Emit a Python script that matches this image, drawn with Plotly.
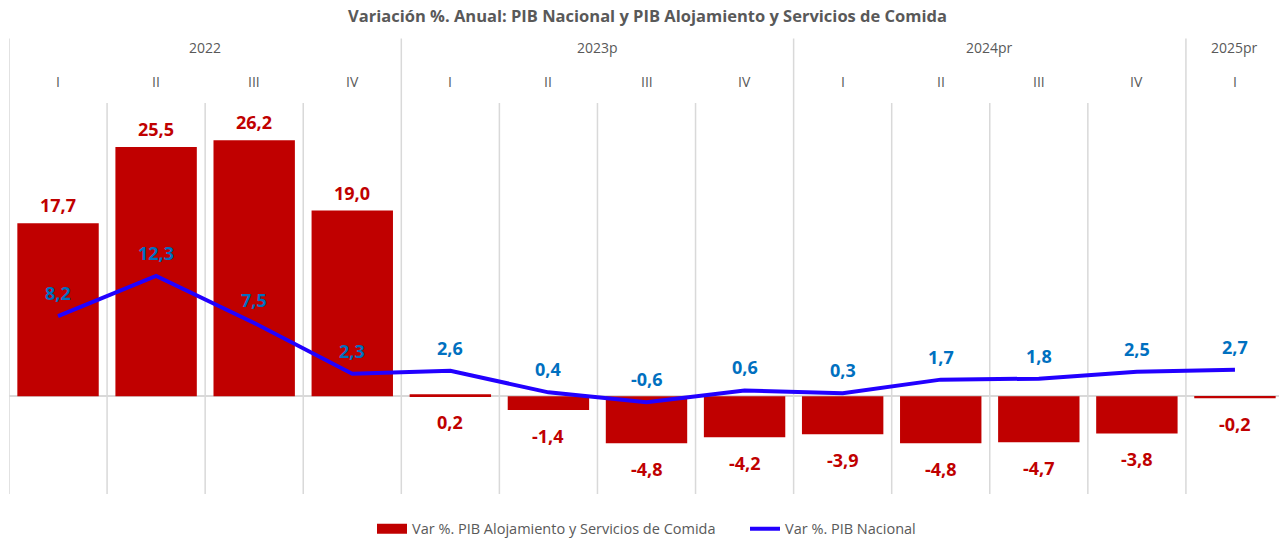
import plotly.graph_objects as go

years = ["2022"] * 4 + ["2023p"] * 4 + ["2024pr"] * 4 + ["2025pr"]
quarters = ["I", "II", "III", "IV"] * 3 + ["I"]
pib_alojamiento = [17.7, 25.5, 26.2, 19.0, 0.2, -1.4, -4.8, -4.2, -3.9, -4.8, -4.7, -3.8, -0.2]
pib_nacional = [8.2, 12.3, 7.5, 2.3, 2.6, 0.4, -0.6, 0.6, 0.3, 1.7, 1.8, 2.5, 2.7]

RED = "#C00000"
BLUE = "#2200FF"
LBLUE = "#0070C0"
GRAY = "#595959"
GRID = "#D9D9D9"
FONT = "Open Sans"

# the page body adds an 8px offset, so the figure is drawn 8px smaller
W, H = 1279, 538
M = dict(l=1, r=3, t=95, b=49)
PW = W - M["l"] - M["r"]
PH = H - M["t"] - M["b"]


def fmt(v):
    return f"{v:.1f}".replace(".", ",")


def above(px):
    # paper y for a point px pixels above the plot top
    return 1 + px / PH


idx = list(range(len(quarters)))

fig = go.Figure()
fig.add_trace(go.Bar(
    x=idx, y=pib_alojamiento, name="Var %. PIB Alojamiento y Servicios de Comida",
    marker=dict(color=RED, line=dict(width=0)), width=0.83, showlegend=False,
))
# legend stand-in for the bar series (wide flat swatch like the original)
fig.add_trace(go.Scatter(
    x=[None], y=[None], mode="lines", name="Var %. PIB Alojamiento y Servicios de Comida",
    line=dict(color=RED, width=10),
))
fig.add_trace(go.Scatter(
    x=idx, y=pib_nacional, name="Var %. PIB Nacional", mode="lines",
    line=dict(color=BLUE, width=4),
))

annotations = []
for i, (b, n) in enumerate(zip(pib_alojamiento, pib_nacional)):
    # bar labels: above tall positive bars, below small / negative ones
    if b >= 1:
        a = dict(x=i, y=b, yshift=18, text=fmt(b))
    else:
        a = dict(x=i, y=min(b, 0), yshift=-26, text=fmt(b))
    a["font"] = dict(color=RED, size=18, family=FONT, weight="bold")
    annotations.append(a)
    annotations.append(dict(x=i, y=n, yshift=23, text=fmt(n),
                            font=dict(color=LBLUE, size=18, family=FONT, weight="bold")))
for a in annotations:
    a.update(xref="x", yref="y", showarrow=False)

# quarter labels and year labels on top
for i, q in enumerate(quarters):
    annotations.append(dict(x=i, y=above(22), xref="x", yref="paper", text=q, showarrow=False,
                            yanchor="middle", font=dict(size=14, color=GRAY, family=FONT)))
groups = []
for i, y in enumerate(years):
    if not groups or groups[-1][0] != y:
        groups.append([y, i, i])
    else:
        groups[-1][2] = i
for y, s, e in groups:
    annotations.append(dict(x=(s + e) / 2, y=above(56), xref="x", yref="paper", text=y,
                            showarrow=False, yanchor="middle",
                            font=dict(size=14, color=GRAY, family=FONT)))

# vertical separators: years reach up through the header, quarters stay in the plot
shapes = []
for k in range(len(quarters) + 1):
    is_year = k == 0 or k == len(quarters) or years[k] != years[k - 1]
    shapes.append(dict(type="line", xref="x", yref="paper", x0=k - 0.5, x1=k - 0.5,
                       y0=0, y1=above(65) if is_year else 1,
                       line=dict(color=GRID, width=1.5), layer="below"))

fig.update_layout(
    width=W, height=H, margin=M,
    plot_bgcolor="white", paper_bgcolor="white",
    font=dict(family=FONT, color=GRAY, size=14),
    title=dict(text="<b>Variación %. Anual: PIB Nacional y PIB Alojamiento y Servicios de Comida</b>",
               x=0.5, xanchor="center", y=1 - 2 / H, yanchor="top", pad=dict(t=0),
               font=dict(size=16.5, color=GRAY, family=FONT)),
    annotations=annotations,
    shapes=shapes,
    showlegend=True,
    legend=dict(orientation="h", x=(364 - M["l"]) / PW, xanchor="left",
                y=-(524 - (H - M["b"])) / PH, yanchor="middle",
                entrywidth=328, entrywidthmode="pixels",
                font=dict(size=14.5, color=GRAY, family=FONT), itemwidth=30),
)
fig.update_xaxes(range=[-0.5, len(quarters) - 0.5], showgrid=False, zeroline=False,
                 showticklabels=False, showline=False, ticks="")
fig.update_yaxes(
    range=[-10, 30], showgrid=False, showticklabels=False,
    zeroline=True, zerolinecolor=GRID, zerolinewidth=1.5,
)

fig.write_html("out.html")
